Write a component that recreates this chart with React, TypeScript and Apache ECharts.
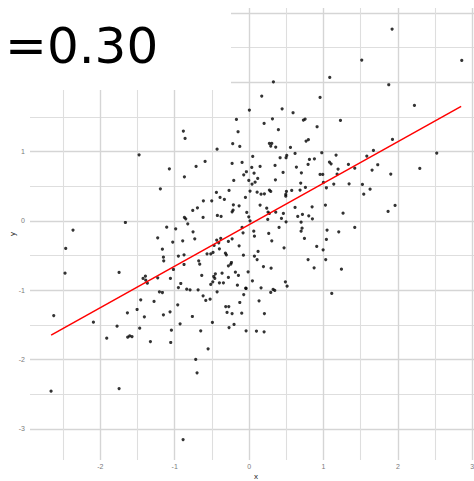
import React, { useEffect, useRef } from "react";
import * as echarts from "echarts";

const xs: number[] = [
  -0.170, -0.148, -0.883, -0.860, -0.220, -0.125, -0.430, -1.478, -0.228, -0.094,
  -0.591, -0.712, -1.071, -0.072, -0.869, -0.206, -1.192, -0.439, -0.269, -0.390,
  -0.332, -0.049, -0.614, -0.502, -0.694, -0.757, -0.211, -0.134, -0.215, -0.228,
  -0.426, -0.376, -0.618, -0.869, -0.851, -1.662, -0.824, -1.107, -0.986, -0.094,
  -2.366, -0.753, -0.081, -1.228, -0.730, -0.381, -0.435, -0.892, -1.026, -0.228,
  -0.278, -0.408, -0.470, -0.134, -2.464, -1.165, -0.399, -0.484, -0.318, -0.565,
  -0.515, -0.305, -0.076, -0.950, -0.874, -1.151, -1.147, -0.677, -0.663, -0.874,
  -0.237, -0.246, -0.278, -1.017, -2.473, -1.747, -0.363, -0.453, -0.184, -0.143,
  -0.636, -0.475, -0.461, -0.278, -1.393, -1.425, -1.389, -1.228, -1.057, -1.367,
  -0.399, -0.488, -0.345, -0.515, -0.918, -0.157, -0.950, -0.838, -0.793, -0.685,
  -0.045, -1.205, -1.165, -0.430, -0.072, -0.618, -1.456, -0.582, -0.524, -1.277,
  -0.125, -0.959, -0.314, -0.273, -1.505, -1.635, -1.062, -1.151, -0.296, -0.228,
  -0.099, -2.625, -1.407, -0.762, -2.092, -0.493, -0.927, -0.202, -1.774, -1.470,
  -0.269, -1.044, -0.650, -1.913, -1.604, -1.573, -1.631, -1.326, -1.053, -0.551,
  -0.717, -0.699, -2.661, -1.747, -0.887,
  1.922, 1.514, 2.858, 1.084, 0.327, 1.877, 0.170, 0.954, 2.222, 0.004,
  0.444, 0.591, 0.314, 0.730, 0.753, 1.228, 0.202, 0.914, 0.394, 1.927,
  0.766, 0.797, 0.273, 0.305, 0.291, 0.358, 0.556, 1.671, 0.618, 0.977,
  2.522, 0.049, 0.417, 0.497, 0.506, 1.169, 1.582, 0.811, 0.878, 0.793,
  1.080, 1.102, 1.335, 1.729, 0.349, 0.148, 0.036, 0.636, 1.196, 1.420,
  2.294, 1.653, -0.036, 0.067, 0.457, 0.703, 0.954, 0.990, 1.183, 1.904,
  0.116, -0.004, 0.354, 0.081, 0.040, 0.694, 0.999, 1.138, 1.344, 1.523,
  0.757, 1.039, 1.626, 0.013, 0.108, 0.273, 0.291, 0.502, 0.573, 0.685,
  0.161, 0.206, 0.493, 0.493, 1.541, 0.148, 1.026, 0.847, 0.237, 0.618,
  1.962, 1.868, -0.031, 0.255, 0.273, 0.358, 0.461, 0.654, 0.717, 0.802,
  0.851, 1.263, -0.004, 0.013, 0.251, 0.435, 0.497, 0.699, 0.403, 0.712,
  0.699, 1.048, 1.205, 1.420, 0.063, 0.072, 0.264, 0.744, 1.039, 0.305,
  0.470, 0.909, 0.995, 0.121, 0.072, 0.108, 0.793, 1.030, 0.193, 0.296,
  0.874, 1.241, -0.013, 0.045, 0.488, 0.511, -0.040, 0.161, 0.323, 0.345,
  0.291, 1.111, 0.134, 0.206, -0.040, 0.099, 0.202,
];

const ys: number[] = [
  1.463, 1.285, 1.294, 1.189, 1.112, 1.073, 1.034, 0.953, 0.828, 0.842,
  0.857, 0.785, 0.751, 0.664, 0.635, 0.582, 0.462, 0.409, 0.438, 0.337,
  0.308, 0.337, 0.289, 0.289, 0.188, 0.150, 0.231, 0.217, 0.154, 0.130,
  0.077, 0.063, 0.049, 0.049, 0.029, -0.024, -0.043, -0.091, -0.115, -0.096,
  -0.134, -0.158, -0.173, -0.245, -0.259, -0.254, -0.278, -0.288, -0.307, -0.259,
  -0.298, -0.317, -0.355, -0.360, -0.399, -0.409, -0.403, -0.456, -0.466, -0.476,
  -0.476, -0.490, -0.495, -0.509, -0.490, -0.524, -0.577, -0.577, -0.625, -0.630,
  -0.601, -0.625, -0.649, -0.702, -0.755, -0.745, -0.755, -0.765, -0.740, -0.788,
  -0.788, -0.803, -0.831, -0.817, -0.798, -0.831, -0.856, -0.822, -0.831, -0.899,
  -0.894, -0.880, -0.894, -0.918, -0.904, -0.928, -0.962, -0.986, -0.995, -0.995,
  -0.971, -1.024, -1.034, -1.024, -1.063, -1.082, -1.139, -1.149, -1.130, -1.163,
  -1.178, -1.211, -1.236, -1.236, -1.279, -1.327, -1.312, -1.356, -1.322, -1.337,
  -1.332, -1.366, -1.385, -1.380, -1.462, -1.466, -1.486, -1.495, -1.519, -1.548,
  -1.539, -1.577, -1.587, -1.693, -1.659, -1.669, -1.678, -1.741, -1.755, -1.846,
  -2.000, -2.193, -2.457, -2.419, -3.155,
  2.766, 2.319, 2.314, 2.069, 2.006, 1.963, 1.800, 1.780, 1.664, 1.597,
  1.616, 1.559, 1.472, 1.453, 1.468, 1.448, 1.405, 1.357, 1.314, 1.174,
  1.150, 1.170, 1.116, 1.116, 1.078, 1.064, 1.059, 1.015, 0.972, 0.982,
  0.978, 0.929, 0.910, 0.910, 0.944, 0.948, 0.934, 0.886, 0.895, 0.813,
  0.847, 0.823, 0.813, 0.809, 0.799, 0.785, 0.770, 0.775, 0.746, 0.760,
  0.756, 0.732, 0.708, 0.688, 0.698, 0.693, 0.669, 0.669, 0.674, 0.674,
  0.611, 0.583, 0.592, 0.558, 0.530, 0.544, 0.554, 0.530, 0.534, 0.525,
  0.481, 0.477, 0.457, 0.429, 0.414, 0.443, 0.424, 0.424, 0.438, 0.443,
  0.385, 0.390, 0.380, 0.356, 0.385, 0.227, 0.227, 0.202, 0.183, 0.193,
  0.222, 0.135, 0.121, 0.125, 0.106, 0.125, 0.106, 0.063, 0.092, 0.073,
  0.029, 0.111, 0.058, 0.000, 0.020, 0.034, -0.014, -0.019, -0.096, -0.106,
  -0.149, -0.134, -0.158, -0.096, -0.149, -0.221, -0.182, -0.254, -0.269, -0.288,
  -0.389, -0.370, -0.418, -0.442, -0.510, -0.558, -0.558, -0.558, -0.659, -0.683,
  -0.678, -0.697, -0.735, -0.865, -0.879, -0.942, -0.976, -0.966, -0.990, -1.004,
  -1.033, -1.048, -1.154, -1.337, -1.587, -1.591, -1.601,
];

const fitX: number[] = [-2.66, 2.85];
const fitY: number[] = [-1.65, 1.65];

const annotation = "=0.30";
const xName = "x";
const yName = "y";

export default function App() {
  const ref = useRef<HTMLDivElement>(null);
  useEffect(() => {
    if (!ref.current) return;
    const chart = echarts.init(ref.current, null, { renderer: "svg" });
    const points = xs.map((x, i) => [x, ys[i]]);
    const fit = fitX.map((x, i) => [x, fitY[i]]);
    const majorLine = { show: true, lineStyle: { color: "#d5d5d5", width: 1.4 }, showMinLine: false, showMaxLine: false };
    const minorLine = { show: true, lineStyle: { color: "#dedede", width: 1.1 } };
    const label = { color: "#7a7a7a", fontSize: 7, fontFamily: "Liberation Sans", showMinLabel: false, showMaxLabel: false };
    chart.setOption({
      animation: false,
      backgroundColor: "#ffffff",
      grid: { left: 30, right: -8, top: 8, bottom: 21, containLabel: false, outerBoundsMode: "none" },
      xAxis: {
        type: "value",
        min: -2.944,
        max: 3.13,
        minInterval: 1,
        maxInterval: 1,
        axisLine: { show: false },
        axisTick: { show: false },
        axisLabel: { ...label, margin: 3 },
        splitLine: majorLine,
        minorTick: { show: false, splitNumber: 2 },
        minorSplitLine: minorLine,
        name: xName,
        nameLocation: "middle",
        nameGap: 12,
        nameMoveOverlap: false,
        nameTextStyle: { color: "#222", fontSize: 8, fontFamily: "Liberation Sans" },
      },
      yAxis: {
        type: "value",
        min: -3.45,
        max: 3.07,
        minInterval: 1,
        maxInterval: 1,
        axisLine: { show: false },
        axisTick: { show: false },
        axisLabel: { ...label, margin: 5 },
        splitLine: majorLine,
        minorTick: { show: false, splitNumber: 2 },
        minorSplitLine: minorLine,
        name: yName,
        nameLocation: "middle",
        nameGap: 14,
        nameMoveOverlap: false,
        nameRotate: 90,
        nameTextStyle: { color: "#222", fontSize: 8, fontFamily: "Liberation Sans" },
      },
      series: [
        {
          type: "scatter",
          data: points,
          symbolSize: 3.2,
          itemStyle: { color: "#000000" },
          z: 2,
        },
        {
          type: "line",
          data: fit,
          symbol: "none",
          lineStyle: { color: "#ff0000", width: 1.5 },
          z: 3,
        },
      ],
      graphic: [
        {
          type: "rect",
          shape: { x: 0, y: 0, width: 231, height: 90 },
          style: { fill: "#ffffff" },
          z: 100,
        },
        {
          type: "text",
          x: 5,
          y: 46,
          z: 101,
          style: {
            text: annotation,
            fill: "#000000",
            fontSize: 50,
            fontFamily: "DejaVu Sans",
            verticalAlign: "middle",
            align: "left",
          },
        },
      ],
    });
    return () => chart.dispose();
  }, []);
  return (
    <div
      ref={ref}
      style={{ position: "fixed", left: 0, top: 0, width: 474, height: 481 }}
    />
  );
}
